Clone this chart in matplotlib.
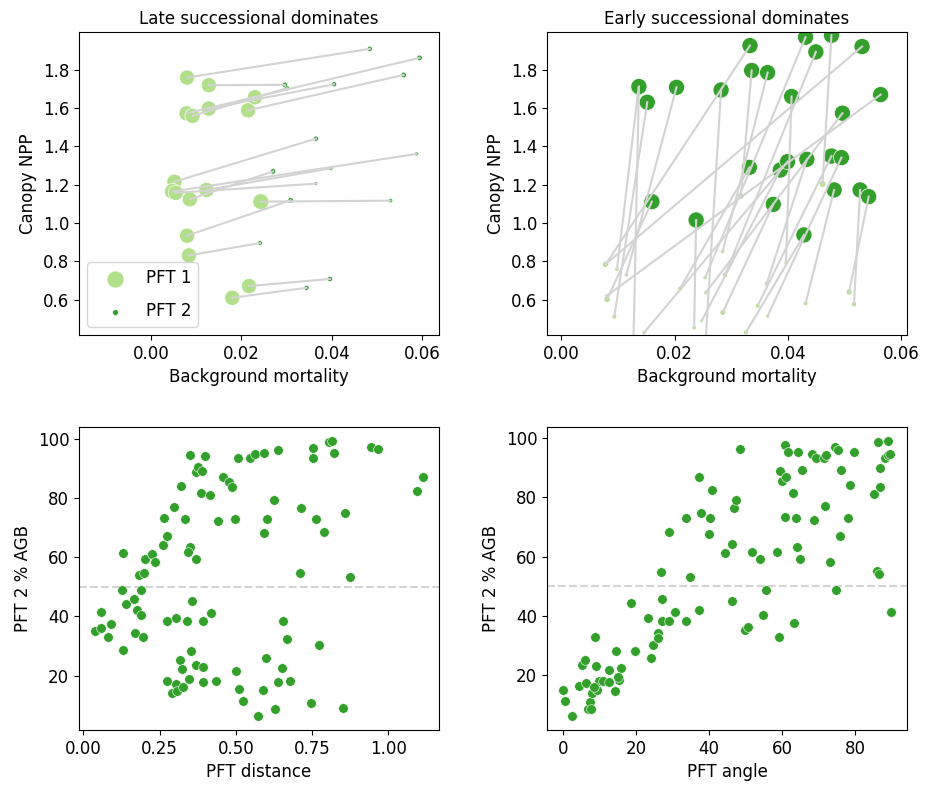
import numpy as np
import matplotlib
matplotlib.use("Agg")
import matplotlib.pyplot as plt

plt.rcParams['font.size'] = 12

PFT1_COLOR = '#b2df8a'
PFT2_COLOR = '#33a02c'
LINE_COLOR = 'lightgrey'

# --- top left: late successional dominates (PFT1 -> PFT2 pairs) ---
late_pft1_x = [0.0080, 0.0128, 0.0079, 0.0128, 0.0215, 0.0092, 0.0230, 0.0052, 0.0048,
               0.0055, 0.0123, 0.0086, 0.0243, 0.0080, 0.0084, 0.0217, 0.0180]
late_pft1_y = [1.760, 1.720, 1.573, 1.598, 1.589, 1.560, 1.657, 1.216, 1.165,
               1.158, 1.173, 1.124, 1.112, 0.934, 0.831, 0.671, 0.610]
late_pft1_s = [120, 120, 120, 120, 120, 120, 120, 120, 135,
               120, 120, 120, 130, 120, 120, 120, 120]
late_pft2_x = [0.0484, 0.0296, 0.0594, 0.0405, 0.0559, 0.0301, 0.0228, 0.0365, 0.0587,
               0.0365, 0.0398, 0.0270, 0.0530, 0.0309, 0.0241, 0.0396, 0.0344]
late_pft2_y = [1.910, 1.722, 1.863, 1.725, 1.774, 1.704, 1.648, 1.441, 1.361,
               1.206, 1.286, 1.270, 1.117, 1.119, 0.896, 0.708, 0.662]
late_pft2_s = [14, 16, 16, 14, 16, 12, 14, 14, 8,
               7, 9, 16, 10, 16, 12, 14, 14]

# --- top right: early successional dominates ---
early_pft1_x = [0.00985, 0.0127, 0.00938, 0.0115, 0.0253, 0.0079, 0.0317, 0.0285, 0.0254,
                0.0461, 0.0289, 0.0078, 0.03965, 0.0080, 0.0255, 0.0210, 0.0248, 0.01466,
                0.03625, 0.03466, 0.03642, 0.0081, 0.02346, 0.0285, 0.04311, 0.05167,
                0.05079, 0.0326]
early_pft1_y = [0.758, 0.30, 0.511, 0.729, 0.30, 0.786, 1.141, 0.851, 0.715,
                1.204, 0.729, 0.784, 0.791, 0.619, 0.636, 0.659, 0.490, 0.429,
                0.683, 0.568, 0.514, 0.601, 0.453, 0.533, 0.580, 0.577,
                0.640, 0.429]
early_pft1_s = [10, 12, 12, 8, 12, 20, 20, 10, 10,
                22, 14, 18, 8, 8, 8, 12, 8, 10,
                12, 12, 8, 20, 10, 16, 12, 14,
                18, 12]
early_pft2_x = [0.01367, 0.01372, 0.01519, 0.02035, 0.02821, 0.03331, 0.03361, 0.03642, 0.04311,
                0.04768, 0.04493, 0.05308, 0.04065, 0.05636, 0.04962, 0.03320, 0.03865, 0.03994,
                0.04334, 0.04768, 0.04944, 0.01601, 0.02381, 0.03742, 0.04815, 0.05273,
                0.05425, 0.04282]
early_pft2_y = [1.709, 1.713, 1.631, 1.709, 1.695, 1.927, 1.797, 1.786, 1.971,
                1.981, 1.894, 1.922, 1.661, 1.671, 1.574, 1.291, 1.277, 1.321,
                1.333, 1.350, 1.342, 1.112, 1.016, 1.098, 1.173, 1.173,
                1.138, 0.938]
early_pft2_s = [135] * 28

# --- bottom left: PFT distance vs PFT 2 % AGB ---
pft_distance = [0.039, 0.057, 0.058, 0.082, 0.091, 0.130, 0.130, 0.126, 0.139, 0.166,
                0.169, 0.176, 0.188, 0.196, 0.182, 0.199, 0.190, 0.202, 0.225, 0.235,
                0.261, 0.275, 0.263, 0.298, 0.320, 0.333, 0.351, 0.398, 0.369, 0.376,
                0.389, 0.386, 0.416, 0.442, 0.459, 0.477, 0.488, 0.497, 0.506, 0.548,
                0.563, 0.591, 0.638, 0.624, 0.602, 0.593, 0.753, 0.754, 0.806, 0.817,
                0.823, 0.714, 0.763, 0.790, 0.859, 0.711, 0.874, 0.943, 0.965, 1.094,
                1.113, 0.350, 0.342, 0.370, 0.356, 0.274, 0.303, 0.339, 0.393, 0.419,
                0.317, 0.352, 0.324, 0.370, 0.392, 0.346, 0.275, 0.303, 0.289, 0.308,
                0.326, 0.392, 0.434, 0.501, 0.510, 0.524, 0.574, 0.588, 0.598, 0.629,
                0.638, 0.652, 0.655, 0.669, 0.678, 0.747, 0.773, 0.853]
agb_by_distance = [35.2, 36.1, 41.5, 33.0, 37.5, 61.5, 28.5, 48.8, 44.2, 45.7,
                   34.5, 42.3, 40.4, 32.9, 53.8, 54.7, 48.8, 59.2, 61.0, 58.3,
                   64.1, 67.1, 73.2, 76.9, 84.1, 72.9, 94.4, 94.0, 88.8, 90.3,
                   89.1, 81.5, 81.0, 72.3, 86.9, 85.5, 83.8, 72.9, 93.3, 93.3,
                   94.7, 95.1, 96.0, 79.2, 72.8, 68.0, 96.8, 93.3, 98.7, 99.2,
                   95.1, 76.5, 72.9, 68.4, 74.8, 54.7, 53.4, 97.3, 96.4, 82.3,
                   86.9, 63.4, 61.7, 59.3, 45.2, 38.4, 39.3, 38.4, 38.4, 41.2,
                   25.3, 28.4, 22.2, 23.6, 23.0, 19.0, 18.2, 17.1, 14.1, 14.8,
                   16.3, 17.8, 18.2, 21.7, 15.4, 11.3, 6.3, 15.0, 25.8, 8.6,
                   17.8, 22.5, 38.5, 32.5, 18.2, 10.9, 30.3, 9.0]

# --- bottom right: PFT angle vs PFT 2 % AGB ---
pft_angle = [0.1, 0.5, 2.4, 4.4, 5.3, 6.0, 6.4, 6.9, 7.3, 7.8,
             8.0, 8.7, 9.1, 9.2, 9.8, 10.9, 12.7, 12.7, 14.2, 14.5,
             15.3, 16.0, 18.6, 19.8, 23.3, 24.2, 24.5, 25.9, 26.0, 26.8,
             27.2, 27.1, 28.9, 28.9, 30.7, 33.6, 33.6, 34.8, 37.1, 37.3,
             37.7, 40.0, 40.3, 40.7, 44.3, 46.1, 46.1, 46.9, 47.3, 48.4,
             49.8, 50.7, 51.6, 53.9, 54.6, 55.4, 58.4, 59.0, 59.3, 59.8,
             60.7, 61.1, 60.8, 61.6, 62.8, 63.1, 63.6, 64.1, 64.3, 64.9,
             65.4, 68.1, 68.6, 69.3, 71.4, 72.0, 71.6, 72.9, 74.5, 75.2,
             74.8, 75.7, 75.9, 77.9, 78.6, 79.6, 85.0, 85.8, 86.3, 86.1,
             86.6, 86.6, 88.8, 88.1, 88.8, 89.5, 89.6, 8.5, 15.0]
agb_by_angle = [15.0, 11.3, 6.2, 16.3, 23.4, 25.3, 17.3, 8.5, 11.0, 8.8,
                14.1, 32.9, 23.0, 15.2, 18.2, 18.2, 17.8, 21.9, 14.8, 28.3,
                18.5, 22.5, 44.3, 28.3, 39.3, 25.8, 30.3, 34.2, 32.5, 54.7,
                45.8, 38.4, 38.4, 68.3, 41.2, 72.9, 38.4, 53.3, 42.1, 86.9,
                74.6, 67.8, 72.9, 82.4, 61.1, 64.3, 45.2, 76.5, 79.0, 96.4,
                35.2, 36.2, 61.7, 59.2, 40.4, 48.8, 61.7, 32.9, 88.8, 85.4,
                97.5, 86.9, 73.2, 95.3, 81.5, 37.5, 72.9, 63.4, 95.1, 59.2,
                89.1, 94.7, 72.3, 93.4, 93.4, 94.2, 77.0, 58.3, 96.8, 96.1,
                48.8, 66.9, 89.1, 72.9, 84.1, 95.1, 81.0, 55.0, 54.1, 98.7,
                90.0, 83.5, 99.0, 93.3, 94.2, 94.7, 41.5, 16.0, 19.5]


def plot_pairs(ax, x1, y1, s1, x2, y2, s2, title, legend=False):
    # puntos de cada PFT y una linea gris que une cada pareja
    ax.scatter(x1, y1, s=s1, color=PFT1_COLOR, edgecolors='white', linewidths=0.5, label='PFT 1')
    ax.scatter(x2, y2, s=s2, color=PFT2_COLOR, edgecolors='white', linewidths=0.5, label='PFT 2')
    for a, b, c, d in zip(x1, y1, x2, y2):
        ax.plot([a, c], [b, d], color=LINE_COLOR, linewidth=1.5)
    ax.set_title(title, fontsize=12)
    ax.set_xlabel('Background mortality')
    ax.set_ylabel('Canopy NPP')
    ax.set_ylim(0.415, 1.997)
    ax.set_yticks([0.6, 0.8, 1.0, 1.2, 1.4, 1.6, 1.8])
    ax.set_xticks([0.0, 0.02, 0.04, 0.06])
    if legend:
        leg = ax.legend(loc='lower left', handlelength=2.5, handletextpad=0.6, labelspacing=0.9)
        leg.legend_handles[0].set_sizes([150])
        leg.legend_handles[1].set_sizes([18])


def plot_agb(ax, x, y, xlabel):
    ax.scatter(x, y, s=48, color=PFT2_COLOR, edgecolors='white', linewidths=0.4)
    ax.axhline(50, color=LINE_COLOR, linestyle='--', linewidth=1.5, zorder=0)
    ax.set_xlabel(xlabel)
    ax.set_ylabel('PFT 2 % AGB')


fig, axs = plt.subplots(2, 2, figsize=(9.25, 7.85), dpi=100)
plt.subplots_adjust(left=0.0854, right=0.9805, top=0.959, bottom=0.070, wspace=0.30, hspace=0.304)

plot_pairs(axs[0, 0], late_pft1_x, late_pft1_y, late_pft1_s,
           late_pft2_x, late_pft2_y, late_pft2_s, 'Late successional dominates', legend=True)
axs[0, 0].set_xlim(-0.0159, 0.0637)

plot_pairs(axs[0, 1], early_pft1_x, early_pft1_y, early_pft1_s,
           early_pft2_x, early_pft2_y, early_pft2_s, 'Early successional dominates')
axs[0, 1].set_xlim(-0.0025, 0.061)

plot_agb(axs[1, 0], pft_distance, agb_by_distance, 'PFT distance')
axs[1, 0].set_xticks([0.0, 0.25, 0.5, 0.75, 1.0])
plot_agb(axs[1, 1], pft_angle, agb_by_angle, 'PFT angle')

for ax in axs[1]:
    ax.set_yticks([20, 40, 60, 80, 100])

plt.savefig('out.png', dpi=100)
